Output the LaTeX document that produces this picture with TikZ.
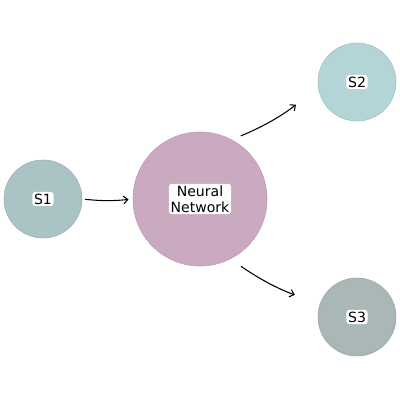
\documentclass[tikz,border=0pt]{standalone}
\usepackage{fontspec}
\setmainfont{DejaVu Sans}
\usetikzlibrary{arrows.meta}
\definecolor{sonecol}{RGB}{170,196,198}
\definecolor{stwocol}{RGB}{179,213,216}
\definecolor{sthreecol}{RGB}{169,183,182}
\definecolor{netcol}{RGB}{201,170,193}

\begin{document}
\begin{tikzpicture}[
        state/.style={circle, draw=#1!90!black, fill=#1, line width=0.4pt, minimum size=1.95cm, inner sep=0pt},
        halo/.style={fill=white, rounded corners=2pt, inner sep=1.2pt, font=\fontsize{10}{11.5}\selectfont, align=center},
        arr/.style={-{Straight Barb[length=3pt, width=5.5pt]}, line width=0.75pt}
    ]
        \useasboundingbox (0,0) rectangle (10,10);
        % Input and network
        \node[state=sonecol, label={[halo]center:S1}] (s1) at (1.075, 5.025) {};
        \node[state=netcol, minimum size=3.35cm, label={[halo]center:Neural\\Network}] (nn) at (5.0, 5.025) {};

        % Outputs
        \node[state=stwocol, label={[halo]center:S2}] (s2) at (8.925, 7.95) {};
        \node[state=sthreecol, label={[halo]center:S3}] (s3) at (8.925, 2.075) {};

        \draw[arr, shorten <=2pt, shorten >=3pt] (s1.east) to[bend right=6] (nn.west);
        \draw[arr, shorten <=7pt, shorten >=20pt] (nn.62) to[out=22, in=218] (s2.188);
        \draw[arr, shorten <=9pt, shorten >=19pt] (nn.-63) to[out=-35, in=161] (s3.160);
    \end{tikzpicture}
\end{document}
